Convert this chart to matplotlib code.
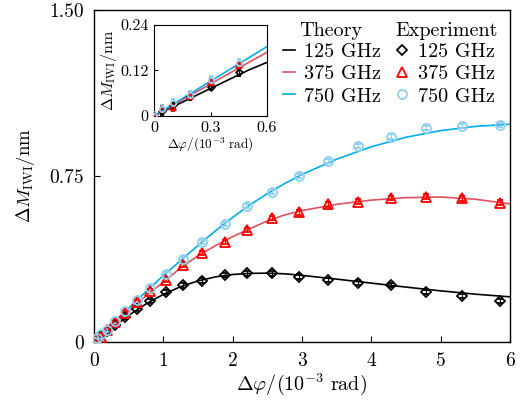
import matplotlib
matplotlib.use("Agg")
import matplotlib.pyplot as plt
from matplotlib.lines import Line2D

plt.rcParams['font.family'] = 'serif'
plt.rcParams['font.serif'] = ['cmr10', 'DejaVu Serif']
plt.rcParams['mathtext.fontset'] = 'cm'
plt.rcParams['axes.unicode_minus'] = False

# ---------------- data ----------------
# theory curves
x_th = [0, 0.25, 0.5, 0.75, 1.0, 1.25, 1.5, 1.75, 2.0, 2.25, 2.5, 2.75, 3.0,
        3.5, 4.0, 4.5, 5.0, 5.5, 6.0]
th_125 = [0, 0.060, 0.120, 0.172, 0.215, 0.250, 0.276, 0.294, 0.305, 0.310,
          0.311, 0.308, 0.301, 0.284, 0.266, 0.248, 0.231, 0.216, 0.204]
th_375 = [0, 0.070, 0.140, 0.208, 0.270, 0.335, 0.390, 0.435, 0.476, 0.512,
          0.547, 0.574, 0.594, 0.622, 0.641, 0.652, 0.655, 0.645, 0.624]
th_750 = [0, 0.076, 0.152, 0.228, 0.300, 0.368, 0.436, 0.502, 0.563, 0.620,
          0.670, 0.716, 0.757, 0.826, 0.882, 0.925, 0.955, 0.974, 0.984]

# experiment points
x_ex = [0, 0.04, 0.10, 0.19, 0.30, 0.45, 0.62, 0.81, 1.04, 1.29, 1.56, 1.89,
        2.20, 2.57, 2.96, 3.37, 3.81, 4.29, 4.79, 5.31, 5.86]
ex_125 = [0, 0.012, 0.027, 0.051, 0.077, 0.115, 0.149, 0.185, 0.225, 0.256,
          0.277, 0.303, 0.310, 0.310, 0.295, 0.280, 0.268, 0.258, 0.227,
          0.208, 0.185]
ex_375 = [0, 0.019, 0.023, 0.053, 0.090, 0.133, 0.179, 0.230, 0.282, 0.348,
          0.402, 0.453, 0.506, 0.559, 0.586, 0.622, 0.634, 0.651, 0.657,
          0.649, 0.630]
ex_750 = [0, 0.019, 0.034, 0.055, 0.095, 0.140, 0.190, 0.245, 0.305, 0.374,
          0.451, 0.532, 0.615, 0.679, 0.750, 0.818, 0.886, 0.928, 0.968,
          0.976, 0.981]
err = 0.01
labels = ['125 GHz', '375 GHz', '750 GHz']

line_cols = ['black', '#e2505f', '#00aee8']
mark_cols = ['black', '#ff0000', '#8fd0ee']
markers = ['D', '^', 'o']
msizes = [5.5, 7, 6.5]

fig = plt.figure(figsize=(5.21, 4.03), dpi=100)
ax = fig.add_axes([0.1804, 0.1514, 0.7985, 0.8238])


def draw(a, ms_scale=1.0, n=None):
    for th, ex, lc, mc, mk, ms in zip([th_125, th_375, th_750],
                                      [ex_125, ex_375, ex_750],
                                      line_cols, mark_cols, markers, msizes):
        a.plot(x_th, th, color=lc, lw=1.2, zorder=2)
        xs = x_ex if n is None else x_ex[:n]
        ys = ex if n is None else ex[:n]
        a.errorbar(xs, ys, yerr=err, fmt=mk, ms=ms * ms_scale, mfc='none',
                   mec=mc, mew=1.3, ecolor=mc, elinewidth=0.8, capsize=2 * ms_scale,
                   zorder=3)


draw(ax)
ax.set_xlim(0, 6)
ax.set_ylim(0, 1.5)
ax.set_xticks([0, 1, 2, 3, 4, 5, 6])
ax.set_yticks([0, 0.75, 1.5])
ax.set_yticklabels(['0', '0.75', '1.50'])
ax.tick_params(direction='in', labelsize=14, length=4, pad=7)
ax.set_xlabel(r'$\Delta\varphi/(10^{-3}\ \mathrm{rad})$', fontsize=14.5, labelpad=1)
ax.set_ylabel(r'$\Delta M_{\mathrm{IWI}}/\mathrm{nm}$', fontsize=13.5, labelpad=9)
for s in ax.spines.values():
    s.set_linewidth(1.0)

# legend: two columns, headers as separate texts
h_th = [Line2D([], [], color=c, lw=1.2) for c in line_cols]
h_ex = [Line2D([], [], linestyle='none', marker=m, mfc='none', mec=c, mew=1.3,
               ms=s) for m, c, s in zip(markers, mark_cols, msizes)]
leg = ax.legend(h_th + h_ex, labels + labels, ncol=2, frameon=False,
                fontsize=14.5, loc='upper left', bbox_to_anchor=(0.4543, 0.90),
                borderpad=0, borderaxespad=0,
                handlelength=0.6, handletextpad=0.45, columnspacing=0.76,
                labelspacing=0.2)
ax.text(0.493, 0.937, 'Theory', transform=ax.transAxes, fontsize=14.5,
        ha='left', va='center')
ax.text(0.724, 0.937, 'Experiment', transform=ax.transAxes, fontsize=14.5,
        ha='left', va='center')

# inset
axin = fig.add_axes([0.2962, 0.7129, 0.2157, 0.2251])
draw(axin, ms_scale=0.6, n=6)
axin.set_xlim(0, 0.6)
axin.set_ylim(0, 0.24)
axin.set_xticks([0, 0.3, 0.6])
axin.set_xticklabels(['0', '0.3', '0.6'])
axin.set_yticks([0, 0.12, 0.24])
axin.set_yticklabels(['0', '0.12', '0.24'])
axin.tick_params(direction='in', labelsize=11.5, length=3, pad=4)
axin.set_xlabel(r'$\Delta\varphi/(10^{-3}\ \mathrm{rad})$', fontsize=9.5, labelpad=1)
axin.set_ylabel(r'$\Delta M_{\mathrm{IWI}}/\mathrm{nm}$', fontsize=11.5, labelpad=1)

fig.savefig('out.png', dpi=100)
